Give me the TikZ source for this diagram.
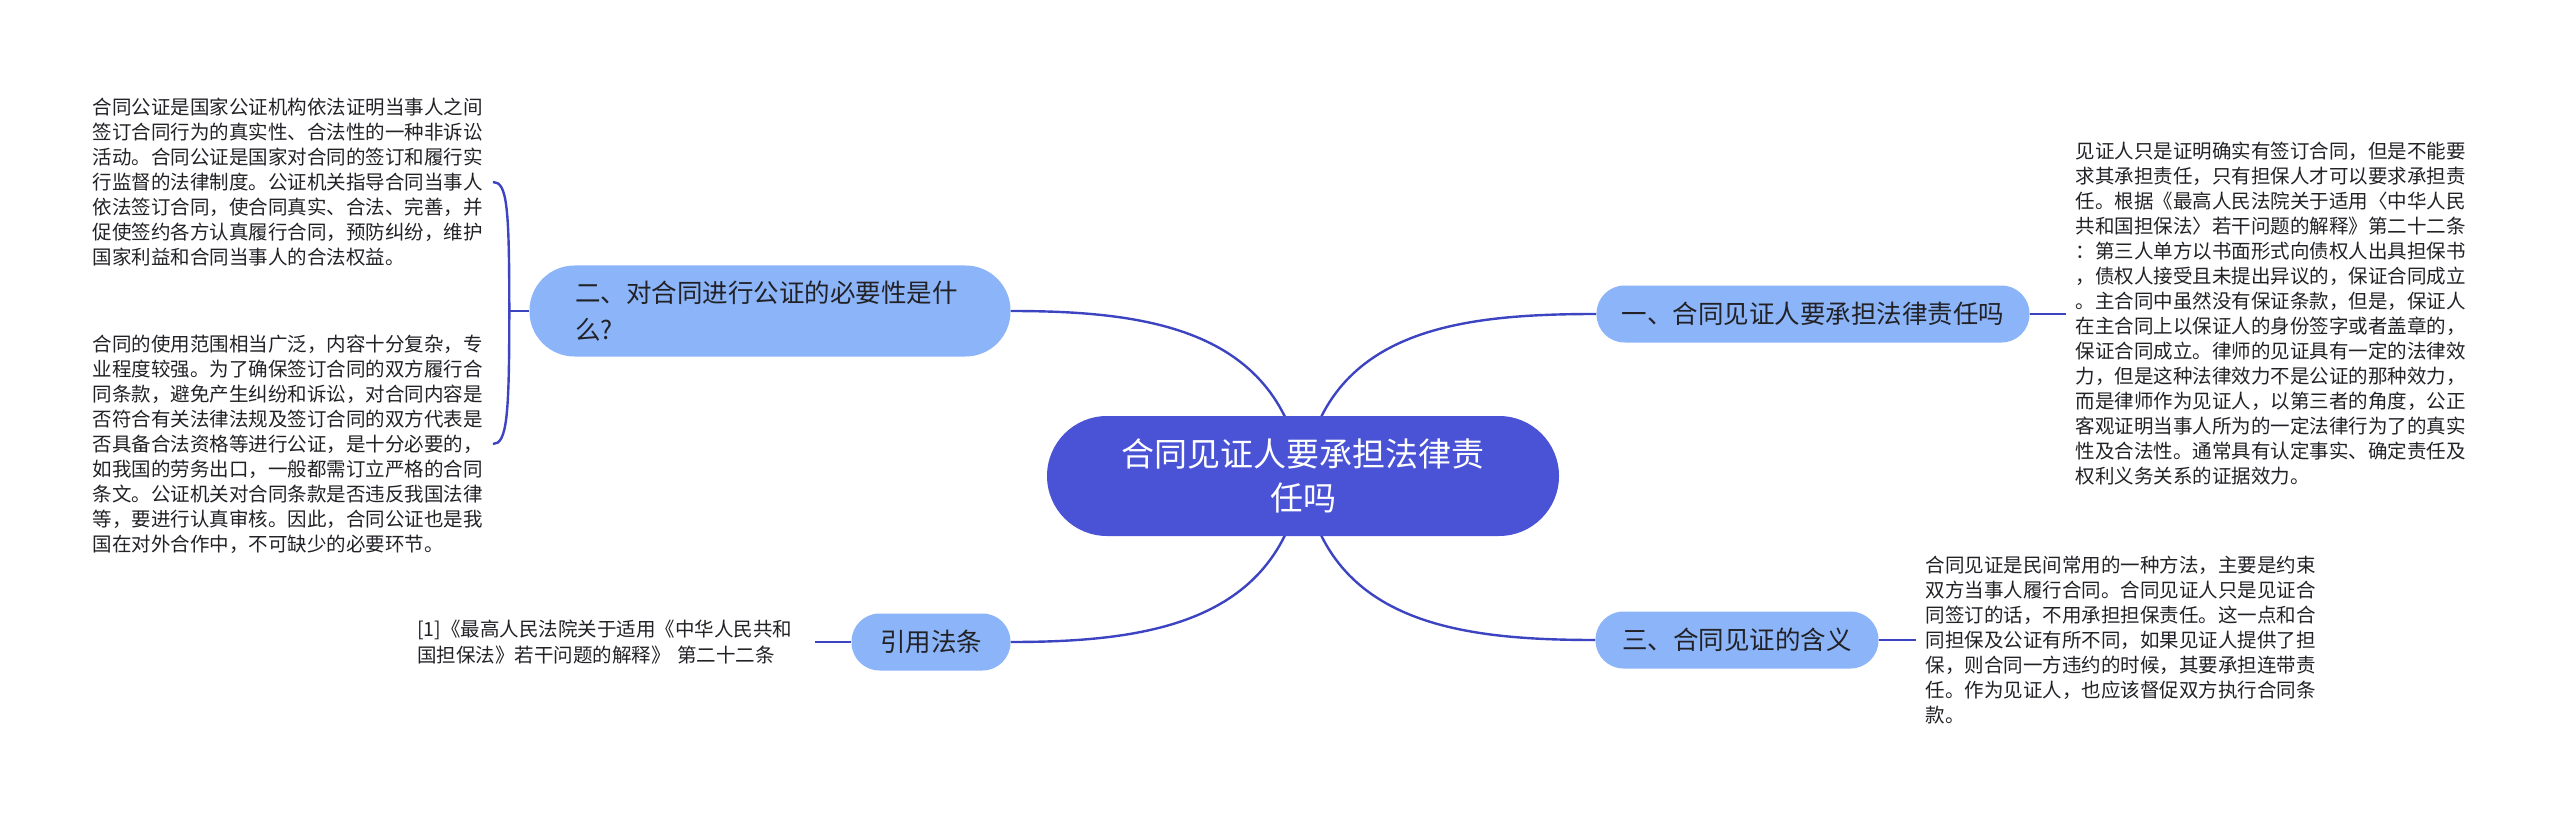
\documentclass[tikz,border=0pt]{standalone}
\usepackage{fontspec}
\setmainfont{Noto Sans CJK SC}
\usepackage{tikz}
\usetikzlibrary{positioning, backgrounds}
\definecolor{DeepBlue}{rgb}{0.29, 0.325, 0.84}
\definecolor{LightBlue}{rgb}{0.55, 0.705, 0.975}
\definecolor{LineBlue}{rgb}{0.24, 0.265, 0.76}
\definecolor{InkGray}{rgb}{0.13, 0.13, 0.15}

\begin{document}
\begin{tikzpicture}[
    x=1pt, y=-1pt,
    link/.style={draw=LineBlue, line width=2.4pt},
    hub/.style={fill=DeepBlue, text=white, rounded corners=60pt, minimum width=512pt,
        minimum height=120pt, align=center, font=\fontsize{33}{44}\selectfont},
    topic/.style={fill=LightBlue, text=InkGray, rounded corners=28pt, minimum height=57pt,
        font=\fontsize{25.5}{37}\selectfont},
    memo/.style={text=InkGray, align=left, inner sep=10pt, font=\fontsize{19.5}{25}\selectfont},
]
\useasboundingbox (0,0) rectangle (2560,821);

% ---- tema central ----
\node[hub] (root) at (1303,476) {合同见证人要承担法律责\\任吗};

% ---- ramas ----
\node[topic, minimum width=433pt] (q1) at (1813,314) {一、合同见证人要承担法律责任吗};
\node[topic, minimum width=481pt, minimum height=91pt, rounded corners=45pt,
      text width=390pt, align=left] (q2) at (770,311) {二、对合同进行公证的必要性是什\\么?};
\node[topic, minimum width=283pt] (q3) at (1737,640) {三、合同见证的含义};
\node[topic, minimum width=159pt] (refs) at (931,642) {引用法条};

% ---- notas ----
\node[memo, right=36pt of q1] (d1)
    {见证人只是证明确实有签订合同，但是不能要\\
     求其承担责任，只有担保人才可以要求承担责\\
     任。根据《最高人民法院关于适用〈中华人民\\
     共和国担保法〉若干问题的解释》第二十二条\\
     ：第三人单方以书面形式向债权人出具担保书\\
     ，债权人接受且未提出异议的，保证合同成立\\
     。主合同中虽然没有保证条款，但是，保证人\\
     在主合同上以保证人的身份签字或者盖章的，\\
     保证合同成立。律师的见证具有一定的法律效\\
     力，但是这种法律效力不是公证的那种效力，\\
     而是律师作为见证人，以第三者的角度，公正\\
     客观证明当事人所为的一定法律行为了的真实\\
     性及合法性。通常具有认定事实、确定责任及\\
     权利义务关系的证据效力。};

\node[memo, anchor=east] (d2a) at (493,182)
    {合同公证是国家公证机构依法证明当事人之间\\
     签订合同行为的真实性、合法性的一种非诉讼\\
     活动。合同公证是国家对合同的签订和履行实\\
     行监督的法律制度。公证机关指导合同当事人\\
     依法签订合同，使合同真实、合法、完善，并\\
     促使签约各方认真履行合同，预防纠纷，维护\\
     国家利益和合同当事人的合法权益。};
\node[memo, anchor=east] (d2b) at (493,444)
    {合同的使用范围相当广泛，内容十分复杂，专\\
     业程度较强。为了确保签订合同的双方履行合\\
     同条款，避免产生纠纷和诉讼，对合同内容是\\
     否符合有关法律法规及签订合同的双方代表是\\
     否具备合法资格等进行公证，是十分必要的，\\
     如我国的劳务出口，一般都需订立严格的合同\\
     条文。公证机关对合同条款是否违反我国法律\\
     等，要进行认真审核。因此，合同公证也是我\\
     国在对外合作中，不可缺少的必要环节。};

\node[memo, right=37pt of q3] (d3)
    {合同见证是民间常用的一种方法，主要是约束\\
     双方当事人履行合同。合同见证人只是见证合\\
     同签订的话，不用承担担保责任。这一点和合\\
     同担保及公证有所不同，如果见证人提供了担\\
     保，则合同一方违约的时候，其要承担连带责\\
     任。作为见证人，也应该督促双方执行合同条\\
     款。};

\node[memo, text width=388pt, font=\fontsize{19.5}{26}\selectfont, left=36pt of refs] (dref)
    {[1]《最高人民法院关于适用《中华人民共和\\
     国担保法》若干问题的解释》 第二十二条};

% ---- conectores ----
\begin{scope}[on background layer]
\draw[link] (root.center) .. controls +(-23,-146) and +(140,0) .. (q2.east);
\draw[link] (root.center) .. controls +(23,-146) and +(-140,0) .. (q1.west);
\draw[link] (root.center) .. controls +(-23,146) and +(140,0) .. (refs.east);
\draw[link] (root.center) .. controls +(23,146) and +(-140,0) .. (q3.west);
\end{scope}

\coordinate[left=20pt of q2.west] (j2);
\draw[link] (q2.west) -- (j2);
\draw[link] (j2) .. controls +(0,-105) and +(14,0) .. (d2a.east);
\draw[link] (j2) .. controls +(0,105) and +(14,0) .. (d2b.east);
\draw[link] (q1.east) -- (d1.west);
\draw[link] (q3.east) -- (d3.west);
\draw[link] (dref.east) -- (refs.west);

\end{tikzpicture}
\end{document}
